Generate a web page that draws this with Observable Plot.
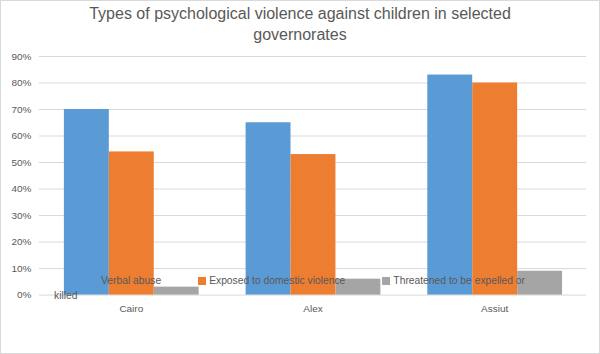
<!DOCTYPE html>
<html>
<head>
<meta charset="utf-8">
<script src="https://cdn.jsdelivr.net/npm/d3@7"></script>
<script src="https://cdn.jsdelivr.net/npm/@observablehq/plot@0.6"></script>
<style>
  html, body { margin: 0; padding: 0; background: #fff; }
  #chart { position: relative; width: 600px; height: 354px; box-sizing: border-box; border: 1px solid #d9d9d9; overflow: hidden; font-family: "Liberation Sans", Arial, sans-serif; }
  #title { position: absolute; left: 0; top: 2px; width: 598px; text-align: center; font-size: 16px; line-height: 21px; color: #595959; }
  .layer { position: absolute; left: -1px; top: 47px; }
  #legend { position: absolute; left: 53px; top: 272px; font-size: 10.3px; line-height: 15px; color: #595959; white-space: nowrap; }
  #legend .sw { display: inline-block; width: 8px; height: 8px; margin-right: 3px; vertical-align: -0.5px; }
  #legend .item { margin-right: 37px; }
</style>
</head>
<body>
<div id="chart">
  <div id="title">Types of psychological violence against children in selected<br>governorates</div>
  <div id="grid" class="layer"></div>
  <div id="plot" class="layer"></div>
  <div id="legend"></div>
</div>
<script>
const categories = ["Cairo", "Alex", "Assiut"];
const series = ["Verbal abuse", "Exposed to domestic violence", "Threatened to be expelled or killed"];
const verbalAbuse = [70, 65, 83];
const exposedDomestic = [54, 53, 80];
const threatened = [3, 6, 9];
const yTicks = [0, 10, 20, 30, 40, 50, 60, 70, 80, 90];
const colors = ["#5B9BD5", "#ED7D31", "#A5A5A5"];

const valuesBySeries = [verbalAbuse, exposedDomestic, threatened];
const data = [];
categories.forEach((c, i) => {
  series.forEach((s, j) => data.push({category: c, series: s, value: valuesBySeries[j][i]}));
});

const common = {
  width: 600,
  height: 307,
  marginTop: 8,
  marginBottom: 60,
  marginLeft: 39,
  marginRight: 13,
  style: {fontFamily: "Liberation Sans, Arial, sans-serif", fontSize: "10px", color: "#595959", background: "transparent"}
};

const gridPlot = Plot.plot({
  ...common,
  x: {axis: null},
  y: {domain: [0, 90], ticks: yTicks, tickFormat: d => d + "%", tickSize: 0, tickPadding: 8, label: null},
  marks: [Plot.ruleY(yTicks, {stroke: "#d9d9d9", strokeWidth: 1})]
});
document.getElementById("grid").appendChild(gridPlot);

const chart = Plot.plot({
  ...common,
  fx: {domain: categories, paddingInner: 0.2536, paddingOuter: 0.1268, label: null, tickSize: 0, tickPadding: 10, axis: "bottom"},
  x: {domain: series, axis: null, padding: 0},
  y: {domain: [0, 90], axis: null},
  color: {domain: series, range: colors},
  marks: [
    Plot.barY(data, {fx: "category", x: "series", y: "value", fill: "series"})
  ]
});
document.getElementById("plot").appendChild(chart);

const legend = document.getElementById("legend");
series.forEach((s, j) => {
  const span = document.createElement("span");
  span.className = "item";
  const sw = document.createElement("span");
  sw.className = "sw";
  sw.style.background = colors[j];
  span.appendChild(sw);
  span.appendChild(document.createTextNode(j === 2 ? "Threatened to be expelled or" : s));
  legend.appendChild(span);
});
legend.appendChild(document.createElement("br"));
legend.appendChild(document.createTextNode("killed"));
legend.firstChild.style.marginLeft = "36px";
</script>
</body>
</html>
